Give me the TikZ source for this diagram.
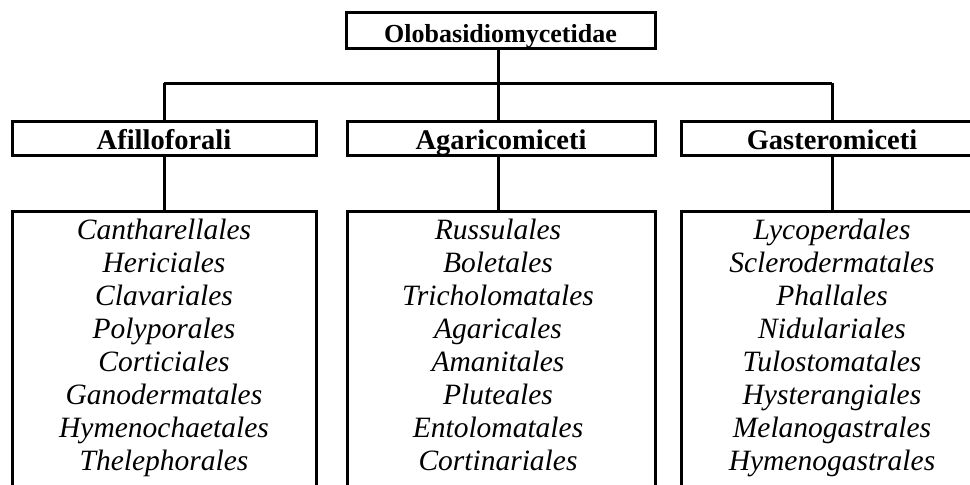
\documentclass[tikz,border=0pt]{standalone}
\usepackage{fontspec}
\setmainfont{Liberation Serif}
\begin{document}
\begin{tikzpicture}[x=1pt,y=-1pt,
  line width=3pt,
  box/.style={draw=black, line width=3pt, rectangle, inner sep=0pt},
  topfont/.style={font=\fontsize{26}{30}\selectfont\bfseries},
  midfont/.style={font=\fontsize{28.5}{32}\selectfont\bfseries},
  itfont/.style={font=\fontsize{29.5}{33}\selectfont\itshape, inner sep=0pt, anchor=base},
  conn/.style={draw=black, line width=3pt}]
\useasboundingbox (0,0) rectangle (970,485);
\clip (0,0) rectangle (970,485);
% top box
\node[box, minimum width=309pt, minimum height=36pt] (T) at (500.5,30) {};
\node[topfont, inner sep=0pt, anchor=base] (Tt) at (500.5,42) {Olobasidiomycetidae};
% middle boxes
\node[box, minimum width=304pt, minimum height=34pt] (A) at (164,138) {};
\node[box, minimum width=308pt, minimum height=34pt] (B) at (501,138) {};
\node[box, minimum width=302pt, minimum height=34pt] (C) at (832,138) {};
\node[midfont, inner sep=0pt, anchor=base] (At) at (164,149) {Afilloforali};
\node[midfont, inner sep=0pt, anchor=base] (Bt) at (501,149) {Agaricomiceti};
\node[midfont, inner sep=0pt, anchor=base] (Ct) at (832,149) {Gasteromiceti};
% bottom boxes
\node[box, minimum width=304pt, minimum height=300pt, anchor=north] (LA) at (164,210) {};
\node[box, minimum width=308pt, minimum height=300pt, anchor=north] (LB) at (501,210) {};
\node[box, minimum width=302pt, minimum height=300pt, anchor=north] (LC) at (832,210) {};
% connectors
\coordinate (bus) at (498,83);
\coordinate (busL) at (164,83);
\coordinate (busR) at (832,83);
\draw[conn] (T.south -| bus) -- (bus);
\draw[conn] (busL) -- (busR);
\draw[conn] (busL) -- (A.north -| busL);
\draw[conn] (bus) -- (B.north -| bus);
\draw[conn] (busR) -- (C.north -| busR);
\draw[conn] (A.south -| busL) -- (LA.north -| busL);
\draw[conn] (B.south -| bus) -- (LB.north -| bus);
\draw[conn] (C.south -| busR) -- (LC.north -| busR);
% lists
\foreach \t [count=\i] in {Cantharellales,Hericiales,Clavariales,Polyporales,Corticiales,Ganodermatales,Hymenochaetales,Thelephorales}
  \node[itfont] (a\i) at (164,{239+33*(\i-1)}) {\t};
\foreach \t [count=\i] in {Russulales,Boletales,Tricholomatales,Agaricales,Amanitales,Pluteales,Entolomatales,Cortinariales}
  \node[itfont] (b\i) at (498,{239+33*(\i-1)}) {\t};
\foreach \t [count=\i] in {Lycoperdales,Sclerodermatales,Phallales,Nidulariales,Tulostomatales,Hysterangiales,Melanogastrales,Hymenogastrales}
  \node[itfont] (c\i) at (832,{239+33*(\i-1)}) {\t};
\end{tikzpicture}
\end{document}
